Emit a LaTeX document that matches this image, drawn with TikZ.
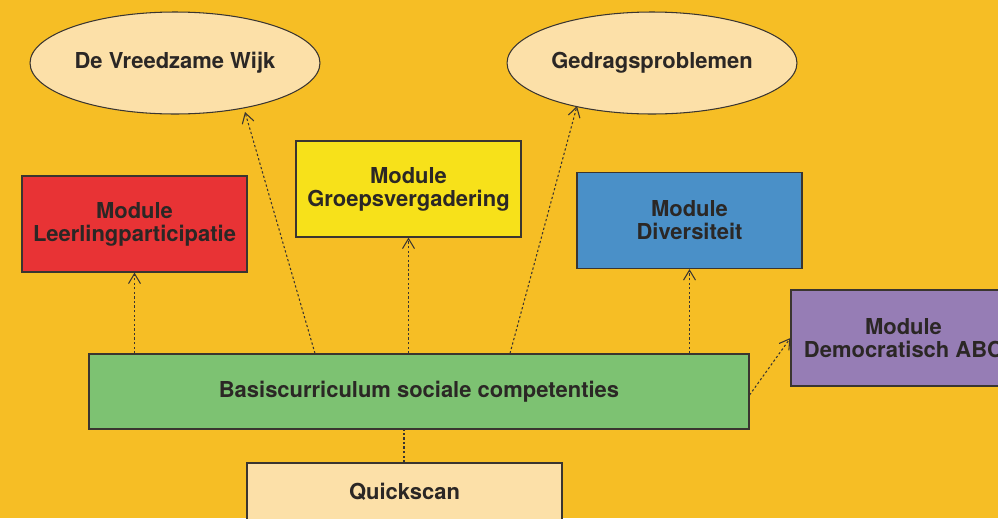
\documentclass[tikz,border=0pt]{standalone}
\usepackage{fontspec}
\setmainfont{TeX Gyre Heros}
\usepackage{xcolor}
\usepackage{tikz}
\usetikzlibrary{positioning, shapes.geometric, arrows.meta}
\usetikzlibrary{calc}
\definecolor{bgorange}{HTML}{F6BE25}
\definecolor{paleorange}{HTML}{FCE0A8}
\definecolor{modred}{HTML}{E83335}
\definecolor{modyellow}{HTML}{F7E11A}
\definecolor{modblue}{HTML}{4A90C8}
\definecolor{modpurple}{HTML}{967DB5}
\definecolor{modgreen}{HTML}{7DC272}
\definecolor{linegray}{HTML}{3A3530}
\definecolor{textgray}{HTML}{2B2725}
\tikzstyle{goal} = [ellipse, inner sep=0pt, minimum width=5.8cm, minimum height=2.04cm, text centered, draw=linegray, fill=paleorange, line width=0.6pt]
\tikzstyle{module} = [rectangle, minimum width=4.5cm, minimum height=1.92cm, text centered, align=center, draw=linegray, line width=0.7pt]
\tikzstyle{arrow} = [linegray, line width=0.6pt, dash pattern=on 1.3pt off 1.3pt, -{Straight Barb[length=2mm,width=2.4mm]}]
\tikzstyle{every node}=[font=\fontsize{12.5}{13}\selectfont\bfseries, text=textgray]

\begin{document}
\begin{tikzpicture}[x=0.02cm, y=-0.02cm]
			\useasboundingbox[fill=bgorange] (0,0) rectangle (998,518);
			%doelen
			\node (wijk) [goal] at (175,63) {De Vreedzame Wijk};
			\node (gedrag) [goal] at (652,63) {Gedragsproblemen};
			%modules
			\node (lp) [module, fill=modred] at (134.5,224) {Module\\Leerlingparticipatie};
			\node (gv) [module, fill=modyellow] at (408.5,189) {Module\\Groepsvergadering};
			\node (div) [module, fill=modblue] at (689.5,220.5) {Module\\Diversiteit};
			\node (abc) [module, fill=modpurple] at (903.5,338) {Module\\Democratisch ABC};
			\node (basis) [module, fill=modgreen, minimum width=13.2cm, minimum height=1.5cm] at (419,391.5) {Basiscurriculum sociale competenties};
			\node (quick) [module, fill=paleorange, minimum width=6.3cm, minimum height=1.16cm] at (404.5,492) {Quickscan};
			\coordinate (wijkpunt) at (245,112);
			\coordinate (gedragpunt) at (577,106);
			\coordinate (scanlijn) at (404,0);
			%verbindingen
			\draw [arrow](basis.north -| lp) -- (lp.south);
			\draw [arrow]($(basis.north)+(-104,0)$) -- (wijkpunt);
			\draw [arrow](basis.north -| gv) -- (gv.south);
			\draw [arrow]($(basis.north)+(91,0)$) -- (gedragpunt);
			\draw [arrow](basis.north -| div) -- (div.south);
			\draw [arrow]($(basis.east)+(0,3.5)$) -- (abc.west);
			\draw [arrow, -](quick.north -| scanlijn) -- (basis.south -| scanlijn);
		\end{tikzpicture}
\end{document}
